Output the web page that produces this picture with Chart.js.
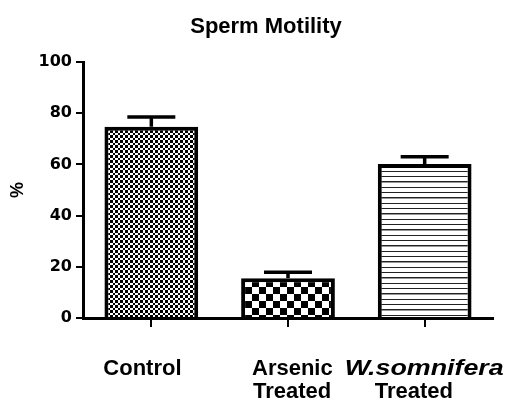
<!DOCTYPE html>
<html>
<head>
<meta charset="utf-8">
<script src="https://cdn.jsdelivr.net/npm/chart.js@4/dist/chart.umd.min.js"></script>
<style>
  html, body { margin: 0; padding: 0; background: #fff; }
  #wrap { width: 511px; height: 400px; }
</style>
</head>
<body>
<div id="wrap"><canvas id="chart"></canvas></div>
<script>
const groups = [['Control'], ['Arsenic', 'Treated'], ['W.somnifera', 'Treated']];
const motility = [74.7, 15.5, 60.2];
const sem = [3.8, 2.4, 2.8];
const yTicks = [0, 20, 40, 60, 80, 100];
const chartTitle = 'Sperm Motility';

const FONT = 'Arial, "Liberation Sans", sans-serif';
const WIDE = '"DejaVu Sans", sans-serif';

// fill patterns for the three bars
function makePattern(w, h, paint) {
    const c = document.createElement('canvas');
    c.width = w;
    c.height = h;
    const g = c.getContext('2d');
    g.fillStyle = '#fff';
    g.fillRect(0, 0, w, h);
    g.fillStyle = '#000';
    paint(g);
    return g.createPattern(c, 'repeat');
}

const ctx = document.getElementById('chart').getContext('2d');

const fineChecker = makePattern(10, 10, g => {
    const edges = [0, 3, 5, 8, 10];
    for (let i = 0; i < 4; i++) {
        for (let j = 0; j < 4; j++) {
            if ((i + j) % 2 === 0) {
                g.fillRect(edges[i], edges[j], edges[i + 1] - edges[i], edges[j + 1] - edges[j]);
            }
        }
    }
});
const coarseChecker = makePattern(14, 14, g => {
    g.fillRect(0, 0, 7, 7);
    g.fillRect(7, 7, 7, 7);
});
const stripes = makePattern(16, 16, g => {
    g.fillStyle = '#222';
    g.fillRect(0, 0, 16, 1);
    g.fillRect(0, 5, 16, 1);
    g.fillRect(0, 11, 16, 1);
    g.fillStyle = '#999';
    g.fillRect(0, 6, 16, 1);
});

const errorBars = {
    id: 'errorBars',
    afterDatasetsDraw(chart) {
        const y = chart.scales.y;
        const meta = chart.getDatasetMeta(0);
        const c = chart.ctx;
        c.save();
        c.strokeStyle = '#000';
        c.lineWidth = 3.5;
        meta.data.forEach((bar, i) => {
            const top = y.getPixelForValue(motility[i]);
            const end = y.getPixelForValue(motility[i] + sem[i]);
            c.beginPath();
            c.moveTo(bar.x, top);
            c.lineTo(bar.x, end);
            c.moveTo(bar.x - 24, end);
            c.lineTo(bar.x + 24, end);
            c.stroke();
        });
        c.restore();
    }
};

// title + two-line category labels (the species name is italic and drawn wider)
const textLayer = {
    id: 'textLayer',
    afterDraw(chart) {
        const x = chart.scales.x;
        const c = chart.ctx;
        c.save();
        c.fillStyle = '#000';
        c.textBaseline = 'alphabetic';

        c.textAlign = 'center';
        c.font = 'bold 22px ' + FONT;
        c.fillText(chartTitle, 266, 33);

        c.textAlign = 'left';
        const leftOffsets = [[-48], [-36, -35], [-80, -50]];
        groups.forEach((lines, i) => {
            const tx = x.getPixelForValue(i);
            lines.forEach((txt, k) => {
                const lx = tx + leftOffsets[i][k];
                const ly = 375 + k * 23;
                if (txt.startsWith('W.')) {
                    c.font = 'italic bold 22px ' + FONT;
                    c.save();
                    c.translate(lx, ly);
                    c.scale(1.22, 1);
                    c.fillText(txt, 0, 0);
                    c.restore();
                } else {
                    c.font = 'bold 22px ' + FONT;
                    c.fillText(txt, lx, ly);
                }
            });
        });
        c.restore();
    }
};

new Chart(ctx, {
    type: 'bar',
    data: {
        labels: groups.map(g => g.join(' ')),
        datasets: [{
            data: motility,
            backgroundColor: [fineChecker, coarseChecker, stripes],
            borderColor: '#000',
            borderWidth: 4,
            borderSkipped: 'bottom',
            barPercentage: 0.686,
            categoryPercentage: 1
        }]
    },
    options: {
        responsive: true,
        maintainAspectRatio: false,
        animation: false,
        layout: { padding: { top: 62, right: 18, bottom: 0, left: 0 } },
        plugins: {
            legend: { display: false },
            tooltip: { enabled: false },
            title: { display: false }
        },
        scales: {
            x: {
                offset: true,
                grid: { drawOnChartArea: false, offset: false, color: '#000', lineWidth: 2, tickLength: 9 },
                border: { color: '#000', width: 3 },
                ticks: { display: false },
                afterFit(scale) { scale.height = 82; }
            },
            y: {
                min: 0,
                max: 100,
                afterBuildTicks(scale) { scale.ticks = yTicks.map(v => ({ value: v })); },
                grid: { drawOnChartArea: false, color: '#000', lineWidth: 2, tickLength: 7 },
                border: { color: '#000', width: 3 },
                ticks: {
                    color: '#000',
                    padding: 4,
                    font: { family: WIDE, size: 16, weight: 'bold' }
                },
                title: {
                    display: true,
                    text: '%',
                    color: '#000',
                    font: { family: FONT, size: 18, weight: 'bold' },
                    padding: { top: 7, bottom: 0 }
                },
                afterFit(scale) { scale.width = 83; }
            }
        }
    },
    plugins: [errorBars, textLayer]
});
</script>
</body>
</html>
